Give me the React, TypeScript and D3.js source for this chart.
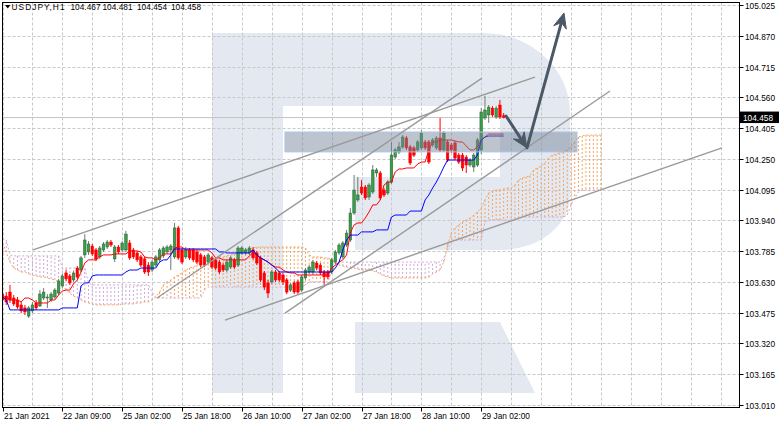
import React from "react";
import * as d3 from "d3";

const W = 782;
const H = 427;

// ---- axis / labels ----
const yTicks = [103.01, 103.165, 103.32, 103.475, 103.63, 103.785, 103.94, 104.095, 104.25, 104.405, 104.56, 104.715, 104.87, 105.025];
const xTickIdx = [0, 16, 32, 48, 64, 80, 96, 112, 128];
const xTickLabels = ["21 Jan 2021", "22 Jan 09:00", "25 Jan 02:00", "25 Jan 18:00", "26 Jan 10:00", "27 Jan 02:00", "27 Jan 18:00", "28 Jan 10:00", "29 Jan 02:00"];
const symbol = "USDJPY,H1";
const titleValues = ["104.467", "104.481", "104.454", "104.458"];
const lastPrice = 104.458;

// ---- candles (H1) ----
const opens = [
  103.569, 103.559, 103.579, 103.549, 103.539, 103.514, 103.499, 103.458, 103.484, 103.524,
  103.509, 103.549, 103.549, 103.539, 103.554, 103.574, 103.610, 103.675, 103.660, 103.640,
  103.700, 103.690, 103.766, 103.781, 103.811, 103.791, 103.756, 103.791, 103.806, 103.831,
  103.746, 103.806, 103.791, 103.791, 103.826, 103.791, 103.776, 103.756, 103.746, 103.715,
  103.690, 103.715, 103.741, 103.761, 103.781, 103.791, 103.756, 103.902, 103.791, 103.756,
  103.791, 103.791, 103.781, 103.766, 103.756, 103.730, 103.751, 103.741, 103.730, 103.715,
  103.690, 103.705, 103.741, 103.715, 103.776, 103.776, 103.776, 103.791, 103.776, 103.751,
  103.675, 103.625, 103.630, 103.680, 103.675, 103.665, 103.640, 103.589, 103.625, 103.630,
  103.589, 103.650, 103.680, 103.680, 103.725, 103.715, 103.680, 103.680, 103.680, 103.730,
  103.776, 103.756, 103.816, 103.841, 103.977, 104.043, 104.108, 104.108, 104.058, 104.083,
  104.179, 104.179, 104.093, 104.078, 104.133, 104.259, 104.284, 104.310, 104.355, 104.310,
  104.305, 104.295, 104.305, 104.335, 104.335, 104.320, 104.305, 104.355, 104.295, 104.335,
  104.320, 104.330, 104.269, 104.269, 104.259, 104.219, 104.209, 104.219, 104.295, 104.456,
  104.471, 104.506, 104.461, 104.521, 104.467,
];
const highs = [
  103.599, 103.579, 103.615, 103.564, 103.554, 103.529, 103.514, 103.509, 103.529, 103.539,
  103.589, 103.599, 103.569, 103.579, 103.599, 103.645, 103.670, 103.690, 103.670, 103.685,
  103.710, 103.761, 103.871, 103.836, 103.821, 103.801, 103.811, 103.831, 103.841, 103.841,
  103.816, 103.816, 103.836, 103.887, 103.841, 103.801, 103.786, 103.766, 103.756, 103.730,
  103.741, 103.766, 103.801, 103.811, 103.816, 103.821, 103.927, 103.912, 103.801, 103.806,
  103.801, 103.801, 103.791, 103.776, 103.766, 103.776, 103.761, 103.751, 103.741, 103.725,
  103.741, 103.761, 103.751, 103.811, 103.811, 103.801, 103.811, 103.806, 103.786, 103.761,
  103.685, 103.640, 103.690, 103.690, 103.685, 103.675, 103.650, 103.625, 103.635, 103.640,
  103.665, 103.700, 103.715, 103.741, 103.735, 103.725, 103.690, 103.690, 103.751, 103.791,
  103.826, 103.836, 103.892, 104.002, 104.169, 104.159, 104.143, 104.118, 104.128, 104.219,
  104.204, 104.189, 104.103, 104.143, 104.335, 104.305, 104.335, 104.370, 104.365, 104.320,
  104.315, 104.345, 104.395, 104.345, 104.345, 104.355, 104.365, 104.456, 104.390, 104.345,
  104.330, 104.340, 104.280, 104.280, 104.269, 104.254, 104.280, 104.355, 104.506, 104.567,
  104.521, 104.516, 104.516, 104.547, 104.481,
];
const lows = [
  103.448, 103.514, 103.524, 103.509, 103.494, 103.473, 103.463, 103.448, 103.473, 103.489,
  103.504, 103.539, 103.499, 103.529, 103.544, 103.564, 103.599, 103.635, 103.615, 103.630,
  103.645, 103.680, 103.751, 103.766, 103.761, 103.735, 103.746, 103.781, 103.796, 103.806,
  103.730, 103.771, 103.781, 103.781, 103.741, 103.746, 103.730, 103.705, 103.670, 103.660,
  103.680, 103.705, 103.730, 103.751, 103.771, 103.690, 103.746, 103.741, 103.720, 103.746,
  103.741, 103.730, 103.720, 103.705, 103.705, 103.720, 103.695, 103.690, 103.670, 103.680,
  103.680, 103.695, 103.695, 103.705, 103.766, 103.766, 103.766, 103.741, 103.715, 103.630,
  103.589, 103.549, 103.620, 103.630, 103.630, 103.615, 103.569, 103.579, 103.569, 103.564,
  103.579, 103.640, 103.670, 103.670, 103.690, 103.665, 103.615, 103.645, 103.670, 103.720,
  103.766, 103.746, 103.806, 103.831, 103.967, 104.033, 104.068, 104.043, 104.043, 104.073,
  104.159, 104.043, 104.058, 104.068, 104.123, 104.249, 104.274, 104.300, 104.295, 104.219,
  104.259, 104.285, 104.295, 104.295, 104.224, 104.310, 104.295, 104.285, 104.285, 104.234,
  104.280, 104.244, 104.224, 104.189, 104.179, 104.209, 104.184, 104.209, 104.274, 104.446,
  104.431, 104.461, 104.451, 104.451, 104.454,
];
const closes = [
  103.539, 103.529, 103.539, 103.519, 103.504, 103.484, 103.479, 103.499, 103.514, 103.499,
  103.569, 103.579, 103.554, 103.569, 103.589, 103.635, 103.660, 103.645, 103.625, 103.675,
  103.655, 103.751, 103.841, 103.821, 103.771, 103.746, 103.801, 103.821, 103.831, 103.816,
  103.806, 103.781, 103.826, 103.871, 103.751, 103.756, 103.741, 103.715, 103.680, 103.680,
  103.730, 103.756, 103.791, 103.801, 103.806, 103.811, 103.902, 103.751, 103.730, 103.791,
  103.751, 103.741, 103.730, 103.715, 103.715, 103.766, 103.705, 103.700, 103.680, 103.690,
  103.730, 103.751, 103.705, 103.801, 103.801, 103.791, 103.801, 103.751, 103.725, 103.640,
  103.604, 103.574, 103.680, 103.640, 103.640, 103.630, 103.579, 103.615, 103.579, 103.579,
  103.655, 103.690, 103.705, 103.730, 103.700, 103.675, 103.655, 103.655, 103.741, 103.781,
  103.816, 103.826, 103.876, 103.977, 104.093, 104.068, 104.078, 104.053, 104.118, 104.194,
  104.194, 104.053, 104.068, 104.133, 104.269, 104.295, 104.310, 104.360, 104.305, 104.229,
  104.269, 104.335, 104.380, 104.305, 104.234, 104.345, 104.355, 104.295, 104.380, 104.244,
  104.295, 104.254, 104.234, 104.204, 104.219, 104.244, 104.269, 104.345, 104.486, 104.496,
  104.511, 104.471, 104.506, 104.461, 104.458,
];

// ---- Ichimoku ----
const tenkan = [
  103.554, 103.554, 103.539, 103.539, 103.539, 103.529, 103.549, 103.549, 103.539, 103.524,
  103.524, 103.524, 103.524, 103.539, 103.539, 103.564, 103.584, 103.589, 103.589, 103.620,
  103.640, 103.680, 103.725, 103.741, 103.741, 103.741, 103.756, 103.766, 103.766, 103.766,
  103.771, 103.771, 103.771, 103.771, 103.786, 103.786, 103.786, 103.781, 103.756, 103.751,
  103.751, 103.741, 103.751, 103.771, 103.771, 103.771, 103.801, 103.806, 103.806, 103.791,
  103.791, 103.791, 103.791, 103.791, 103.791, 103.791, 103.776, 103.751, 103.751, 103.741,
  103.741, 103.741, 103.741, 103.741, 103.741, 103.741, 103.761, 103.776, 103.766, 103.751,
  103.741, 103.730, 103.715, 103.705, 103.705, 103.690, 103.680, 103.675, 103.675, 103.665,
  103.665, 103.665, 103.665, 103.665, 103.665, 103.665, 103.665, 103.665, 103.700, 103.715,
  103.730, 103.741, 103.766, 103.877, 103.917, 103.927, 103.927, 103.952, 103.982, 104.018,
  104.018, 104.043, 104.118, 104.133, 104.133, 104.184, 104.199, 104.199, 104.204, 104.204,
  104.204, 104.224, 104.234, 104.234, 104.295, 104.335, 104.335, 104.345, 104.345, 104.345,
  104.345, 104.340, 104.335, 104.335, 104.315, 104.295, 104.295, 104.310, 104.345, 104.360,
  104.375, 104.375, 104.375, 104.375, 104.375,
];
const kijun = [
  103.554, 103.539, 103.489, 103.489, 103.489, 103.489, 103.489, 103.489, 103.489, 103.489,
  103.489, 103.489, 103.489, 103.489, 103.489, 103.489, 103.499, 103.499, 103.499, 103.499,
  103.499, 103.610, 103.625, 103.625, 103.660, 103.665, 103.665, 103.665, 103.665, 103.665,
  103.665, 103.665, 103.665, 103.680, 103.690, 103.690, 103.690, 103.700, 103.700, 103.700,
  103.700, 103.700, 103.730, 103.741, 103.741, 103.766, 103.796, 103.796, 103.796, 103.796,
  103.796, 103.796, 103.796, 103.796, 103.796, 103.796, 103.796, 103.796, 103.781, 103.781,
  103.776, 103.776, 103.776, 103.776, 103.776, 103.776, 103.776, 103.791, 103.766, 103.751,
  103.741, 103.730, 103.715, 103.700, 103.680, 103.680, 103.680, 103.680, 103.680, 103.680,
  103.680, 103.680, 103.680, 103.680, 103.680, 103.680, 103.680, 103.680, 103.680, 103.700,
  103.730, 103.791, 103.841, 103.866, 103.866, 103.866, 103.882, 103.882, 103.882, 103.882,
  103.892, 103.892, 103.892, 103.892, 103.957, 103.967, 103.967, 103.967, 103.967, 103.987,
  103.987, 103.987, 103.987, 104.043, 104.068, 104.103, 104.133, 104.169, 104.209, 104.244,
  104.244, 104.244, 104.244, 104.244, 104.244, 104.244, 104.244, 104.269, 104.345, 104.360,
  104.365, 104.365, 104.365, 104.365, 104.365,
];
const spanA = [
  103.826, 103.781, 103.730, 103.700, 103.690, 103.680, 103.680, 103.670, 103.665, 103.660,
  103.655, 103.655, 103.650, 103.645, 103.640, 103.630, 103.615, 103.589, 103.574, 103.559,
  103.549, 103.539, 103.529, 103.524, 103.519, 103.514, 103.514, 103.514, 103.514, 103.514,
  103.514, 103.514, 103.519, 103.519, 103.519, 103.519, 103.524, 103.524, 103.529, 103.529,
  103.539, 103.554, 103.579, 103.615, 103.630, 103.640, 103.655, 103.665, 103.675, 103.690,
  103.700, 103.705, 103.715, 103.730, 103.741, 103.741, 103.751, 103.751, 103.756, 103.756,
  103.761, 103.766, 103.771, 103.776, 103.781, 103.791, 103.796, 103.801, 103.806, 103.806,
  103.806, 103.806, 103.806, 103.806, 103.806, 103.806, 103.806, 103.806, 103.806, 103.806,
  103.806, 103.801, 103.766, 103.756, 103.756, 103.756, 103.751, 103.751, 103.741, 103.730,
  103.715, 103.710, 103.705, 103.700, 103.700, 103.695, 103.690, 103.690, 103.690, 103.685,
  103.680, 103.670, 103.660, 103.655, 103.650, 103.650, 103.650, 103.650, 103.650, 103.650,
  103.650, 103.650, 103.650, 103.650, 103.655, 103.670, 103.680, 103.690, 103.730, 103.816,
  103.877, 103.902, 103.917, 103.932, 103.942, 103.952, 103.967, 103.982, 104.002, 104.043,
  104.078, 104.088, 104.093, 104.093, 104.098, 104.103, 104.103, 104.118, 104.143, 104.154,
  104.159, 104.164, 104.194, 104.204, 104.214, 104.229, 104.254, 104.269, 104.274, 104.280,
  104.285, 104.295, 104.310, 104.335, 104.360, 104.365, 104.370, 104.370, 104.370, 104.370,
  104.370,
];
const spanB = [
  103.851, 103.841, 103.766, 103.761, 103.761, 103.761, 103.761, 103.761, 103.761, 103.761,
  103.761, 103.761, 103.761, 103.761, 103.761, 103.761, 103.700, 103.700, 103.700, 103.700,
  103.700, 103.700, 103.700, 103.625, 103.615, 103.615, 103.615, 103.615, 103.615, 103.615,
  103.615, 103.615, 103.615, 103.615, 103.615, 103.615, 103.615, 103.615, 103.615, 103.615,
  103.579, 103.549, 103.549, 103.549, 103.549, 103.549, 103.549, 103.549, 103.549, 103.549,
  103.549, 103.549, 103.549, 103.549, 103.589, 103.604, 103.604, 103.604, 103.604, 103.604,
  103.604, 103.604, 103.604, 103.604, 103.604, 103.604, 103.604, 103.604, 103.604, 103.604,
  103.604, 103.604, 103.604, 103.604, 103.604, 103.604, 103.604, 103.604, 103.604, 103.604,
  103.604, 103.615, 103.630, 103.630, 103.630, 103.630, 103.630, 103.630, 103.680, 103.715,
  103.730, 103.730, 103.730, 103.730, 103.730, 103.730, 103.730, 103.730, 103.730, 103.730,
  103.730, 103.730, 103.730, 103.730, 103.730, 103.730, 103.730, 103.730, 103.730, 103.730,
  103.730, 103.730, 103.730, 103.730, 103.730, 103.730, 103.730, 103.730, 103.751, 103.791,
  103.841, 103.841, 103.841, 103.841, 103.841, 103.841, 103.841, 103.841, 103.841, 103.932,
  103.942, 103.942, 103.942, 103.942, 103.942, 103.942, 103.942, 103.942, 103.952, 103.957,
  103.957, 103.957, 103.957, 103.957, 103.957, 103.957, 103.957, 103.957, 103.957, 103.957,
  103.957, 103.967, 104.018, 104.053, 104.083, 104.093, 104.093, 104.093, 104.093, 104.093,
  104.093,
];

// ---- annotations (bar index, price) ----
const trendLines = [
  [8.16, 103.791, 142.38, 104.662],
  [41.31, 103.549, 128.21, 104.657],
  [59.49, 103.438, 192.38, 104.305],
  [75.53, 103.473, 162.43, 104.592],
];
const arrows = [
  [134.63, 104.466, 140.24, 104.305],
  [140.24, 104.305, 150.13, 104.985],
];
const zone = [75.53, 104.385, 153.61, 104.285];

// ---- scales ----
const PL = 2.5, PT = 2.5, PR = 739.5, PB = 407.5;
const xs = d3.scaleLinear().domain([0, 134]).range([2.5, 2.5 + 134 * 3.74]);
const ys = d3.scaleLinear().domain([103.01, 105.025]).range([405, 5]);

const FONT = "'Liberation Sans', Arial, sans-serif";
const FS = 8.3;

function arrowParts(x1: number, y1: number, x2: number, y2: number) {
  const dx = x2 - x1, dy = y2 - y1;
  const len = Math.hypot(dx, dy);
  const ux = dx / len, uy = dy / len;
  const nx = -uy, ny = ux;
  const L = 15, Wd = 6.5, notch = 10;
  const bx = x2 - ux * L, by = y2 - uy * L;
  const mx = x2 - ux * notch, my = y2 - uy * notch;
  const head = `M${x2},${y2} L${bx + nx * Wd},${by + ny * Wd} L${mx},${my} L${bx - nx * Wd},${by - ny * Wd} Z`;
  return { head, sx: mx, sy: my };
}

export default function App() {
  const lineGen = d3.line<number>().x((_, i) => xs(i)).y((v) => ys(v));
  const gridX = d3.range(0, 200, 8).map((i) => xs(i)).filter((x) => x < PR);
  const zx1 = xs(zone[0]), zx2 = xs(zone[2]);
  const zy1 = ys(zone[1]), zy2 = ys(zone[3]);

  return (
    <svg width={W} height={H} viewBox={`0 0 ${W} ${H}`} style={{ position: "absolute", left: 0, top: 0, background: "#fff" }}>
      <defs>
        <clipPath id="plot">
          <rect x={PL} y={PT} width={PR - PL} height={PB - PT} />
        </clipPath>
      </defs>
      <rect x={0} y={0} width={W} height={H} fill="#fff" />
      <g clipPath="url(#plot)">
        {/* watermark */}
        <path d="M212,33 H483 A87,80 0 0 1 570,113 V195 A70,55 0 0 1 500,250 H355 V177 H500 V106 H283 V393 H212 Z" fill="#e4e9f1" />
        <path d="M355,322 H500 L535,393 H355 Z" fill="#e4e9f1" />
        {/* grid */}
        {yTicks.map((t) => (
          <line key={"gy" + t} x1={PL} x2={PR} y1={Math.round(ys(t)) + 0.5} y2={Math.round(ys(t)) + 0.5} stroke="#c8c8c8" strokeDasharray="3,2" strokeWidth={1} />
        ))}
        {gridX.map((x, k) => (
          <line key={"gx" + k} x1={Math.round(x) + 0.5} x2={Math.round(x) + 0.5} y1={PT} y2={PB} stroke="#c8c8c8" strokeDasharray="3,2" strokeWidth={1} />
        ))}
        {/* cloud hatch */}
        {spanA.map((a, j) => {
          const b = spanB[j];
          const up = a >= b;
          return (
            <line key={"k" + j} x1={xs(j)} x2={xs(j)} y1={ys(a)} y2={ys(b)} stroke={up ? "#f4a460" : "#cfa9d3"} strokeWidth={1} strokeDasharray="2,2" />
          );
        })}
        <path d={lineGen(spanA) || ""} fill="none" stroke="#f4a460" strokeWidth={1} strokeDasharray="2,2" />
        <path d={lineGen(spanB) || ""} fill="none" stroke="#cfa9d3" strokeWidth={1} strokeDasharray="2,2" />
        {/* last price line */}
        <line x1={PL} x2={PR} y1={ys(lastPrice)} y2={ys(lastPrice)} stroke="#c4c4c4" strokeWidth={1} />
        {/* candles */}
        {opens.map((o, i) => {
          const c = closes[i];
          const up = c >= o;
          const x = xs(i);
          const yT = ys(Math.max(o, c));
          const yB = ys(Math.min(o, c));
          return (
            <g key={"c" + i}>
              <line x1={x} x2={x} y1={ys(highs[i])} y2={ys(lows[i])} stroke={up ? "#6f7d6f" : "#ff0000"} strokeWidth={1} />
              <rect x={x - 1.3} y={yT} width={2.6} height={Math.max(1, yB - yT)} fill={up ? "#35a047" : "#ff0000"} stroke={up ? "#2f5a35" : "#ff0000"} strokeWidth={0.5} />
            </g>
          );
        })}
        {/* tenkan / kijun */}
        <path d={lineGen(tenkan) || ""} fill="none" stroke="#ff0000" strokeWidth={1} />
        <path d={lineGen(kijun) || ""} fill="none" stroke="#0000ff" strokeWidth={1} />
        {/* zone */}
        <rect x={zx1} y={zy1} width={zx2 - zx1} height={zy2 - zy1} fill="rgb(118,132,150)" fillOpacity={0.48} stroke="#a8c4e8" strokeWidth={1} />
        {/* trend lines */}
        {trendLines.map((t, k) => (
          <line key={"t" + k} x1={xs(t[0])} y1={ys(t[1])} x2={xs(t[2])} y2={ys(t[3])} stroke="#9a9a9a" strokeWidth={1.4} />
        ))}
        {/* arrows */}
        {arrows.map((a, k) => {
          const x1 = xs(a[0]), y1 = ys(a[1]), x2 = xs(a[2]), y2 = ys(a[3]);
          const p = arrowParts(x1, y1, x2, y2);
          return (
            <g key={"a" + k}>
              <line x1={x1} y1={y1} x2={p.sx} y2={p.sy} stroke="#4b5967" strokeWidth={3} strokeLinecap="round" />
              <path d={p.head} fill="#4b5967" stroke="#4b5967" strokeWidth={1} strokeLinejoin="round" />
            </g>
          );
        })}
      </g>
      {/* frame */}
      <rect x={PL} y={PT} width={PR - PL} height={PB - PT} fill="none" stroke="#000" strokeWidth={1} />
      {/* y axis */}
      {yTicks.map((t) => {
        const y = Math.round(ys(t)) + 0.5;
        return (
          <g key={"yl" + t}>
            <line x1={PR} x2={PR + 4} y1={y} y2={y} stroke="#000" />
            <text x={745} y={y + 3} fontFamily={FONT} fontSize={FS} fill="#000">{t.toFixed(3)}</text>
          </g>
        );
      })}
      <rect x={740} y={ys(lastPrice) - 6} width={39} height={11.5} fill="#000" />
      <text x={743} y={ys(lastPrice) + 3} fontFamily={FONT} fontSize={FS} fill="#fff">{lastPrice.toFixed(3)}</text>
      {/* x axis */}
      {xTickIdx.map((idx, k) => {
        const x = Math.round(xs(idx)) + 0.5;
        return (
          <g key={"xl" + k}>
            <line x1={x} x2={x} y1={PB} y2={PB + 4} stroke="#000" />
            <text x={x + 0.5} y={418.5} fontFamily={FONT} fontSize={FS} fill="#000">{xTickLabels[k]}</text>
          </g>
        );
      })}
      {/* title */}
      <path d="M5,5 L10.5,5 L7.75,8.5 Z" fill="#000" />
      <text x={11.5} y={10} fontFamily={FONT} fontSize={FS} fill="#000" textLength={53} lengthAdjust="spacing">{symbol}</text>
      {titleValues.map((v, k) => (
        <text key={"tv" + k} x={[70.5, 102.5, 137, 171][k]} y={10} fontFamily={FONT} fontSize={FS} fill="#000">{v}</text>
      ))}
    </svg>
  );
}
